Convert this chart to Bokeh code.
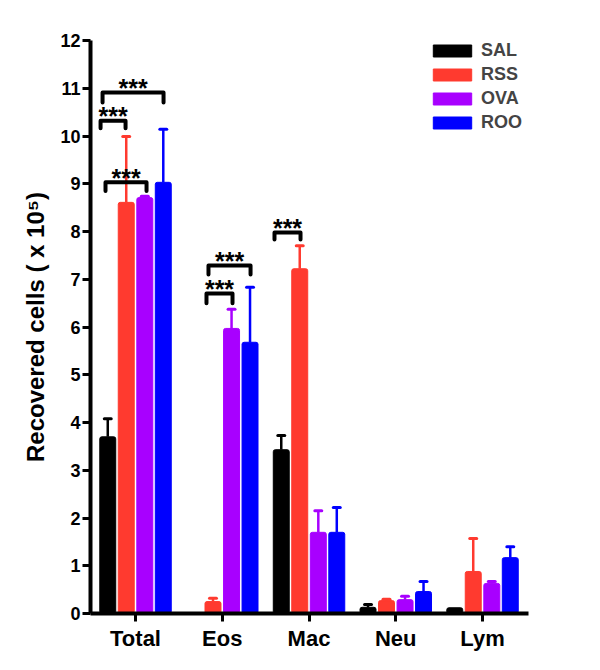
from bokeh.plotting import figure
from bokeh.models import Range1d, FixedTicker, Legend, LegendItem, ColumnDataSource
from bokeh.core.properties import value
from bokeh.embed import file_html
from bokeh.resources import INLINE

# ---- data ----
categories = ["Total", "Eos", "Mac", "Neu", "Lym"]
groups = ["SAL", "RSS", "OVA", "ROO"]
colors = ["#000000", "#ff3a2f", "#a800ff", "#0000ff"]

sal_mean = [3.70, 0.00, 3.43, 0.13, 0.12]
sal_err = [0.38, 0.00, 0.30, 0.06, 0.00]
rss_mean = [8.61, 0.25, 7.22, 0.27, 0.88]
rss_err = [1.38, 0.07, 0.48, 0.03, 0.69]
ova_mean = [8.71, 5.97, 1.70, 0.29, 0.63]
ova_err = [0.03, 0.40, 0.45, 0.07, 0.04]
roo_mean = [9.03, 5.68, 1.70, 0.46, 1.17]
roo_err = [1.11, 1.15, 0.52, 0.21, 0.23]

y_ticks = list(range(0, 13))

# significance brackets: left x, right x, bracket height, leg bottom, label
brackets = [
    (-0.403, -0.115, 10.32, 10.16, "***"),
    (-0.380, 0.323, 10.91, 10.70, "***"),
    (-0.346, 0.127, 9.03, 8.85, "***"),
    (0.841, 1.326, 7.29, 7.10, "***"),
    (0.818, 1.118, 6.70, 6.50, "***"),
    (1.602, 1.902, 7.98, 7.83, "***"),
]

means = [sal_mean, rss_mean, ova_mean, roo_mean]
errs = [sal_err, rss_err, ova_err, roo_err]

FONT = "Liberation Sans"
offsets = [-0.32, -0.107, 0.107, 0.32]
bar_w = 0.184
cap_hw = 0.04

p = figure(width=592, height=662, output_backend="svg", toolbar_location=None,
           x_range=Range1d(-0.519, 4.53), y_range=Range1d(0, 12),
           min_border_left=90, min_border_right=64, min_border_top=40,
           min_border_bottom=49)
p.outline_line_color = None
p.grid.visible = False
p.background_fill_color = "white"

items = []
for g, c, m, e, off in zip(groups, colors, means, errs, offsets):
    xs = [i + off for i in range(len(categories))]
    src = ColumnDataSource(dict(x=xs, top=m))
    r = p.vbar(x="x", top="top", bottom=0, width=bar_w, source=src,
               fill_color=c, line_color=c, line_width=1, border_radius=2)
    items.append(LegendItem(label=g, renderers=[r]))
    ex = [x for x, ee in zip(xs, e) if ee > 0]
    elo = [mm for mm, ee in zip(m, e) if ee > 0]
    ehi = [mm + ee for mm, ee in zip(m, e) if ee > 0]
    p.segment(x0=ex, y0=elo, x1=ex, y1=ehi, line_color=c, line_width=2.5)
    p.segment(x0=[x - cap_hw for x in ex], y0=ehi, x1=[x + cap_hw for x in ex],
              y1=ehi, line_color=c, line_width=3, line_cap="round")

bx = [[b[0], b[0], b[1], b[1]] for b in brackets]
by = [[b[3], b[2], b[2], b[3]] for b in brackets]
p.multi_line(xs=bx, ys=by, line_color="black", line_width=4,
             line_join="round", line_cap="round")
p.text(x=[(b[0] + b[1]) / 2 for b in brackets], y=[b[2] + 0.1 for b in brackets],
       text=[b[4] for b in brackets], text_align="center",
       text_baseline="alphabetic", text_font=value(FONT),
       text_font_style="bold", text_font_size="25px", text_color="black")

legend = Legend(items=items, location=(338, 480), orientation="vertical",
                glyph_width=48, glyph_height=15, label_height=15, spacing=3,
                label_standoff=5, padding=0, margin=0,
                border_line_color=None, background_fill_alpha=0,
                label_text_font=FONT, label_text_font_style="bold",
                label_text_font_size="18px", label_text_baseline="middle")
p.add_layout(legend)

# axes
for ax in (p.xaxis[0], p.yaxis[0]):
    ax.axis_line_width = 4
    ax.axis_line_color = "black"
    ax.major_tick_line_width = 3
    ax.major_tick_line_color = "black"
    ax.major_tick_out = 8
    ax.major_tick_in = 0
    ax.minor_tick_line_color = None
    ax.major_label_text_font = FONT
    ax.major_label_text_font_style = "bold"
    ax.major_label_text_color = "black"

p.yaxis.ticker = FixedTicker(ticks=y_ticks)
p.yaxis.major_label_text_font_size = "18px"
p.yaxis.major_label_standoff = 2
p.yaxis.axis_label = "Recovered cells ( x 10\u2075)"
p.yaxis.axis_label_text_font = FONT
p.yaxis.axis_label_text_font_style = "bold"
p.yaxis.axis_label_text_font_size = "24px"
p.yaxis.axis_label_text_color = "black"
p.yaxis.axis_label_standoff = 8

p.xaxis.ticker = FixedTicker(ticks=list(range(len(categories))))
p.xaxis.major_label_overrides = {i: c for i, c in enumerate(categories)}
p.xaxis.major_label_text_font_size = "22px"
p.xaxis.major_label_standoff = 4

open("out.html", "w").write(file_html(p, INLINE))
